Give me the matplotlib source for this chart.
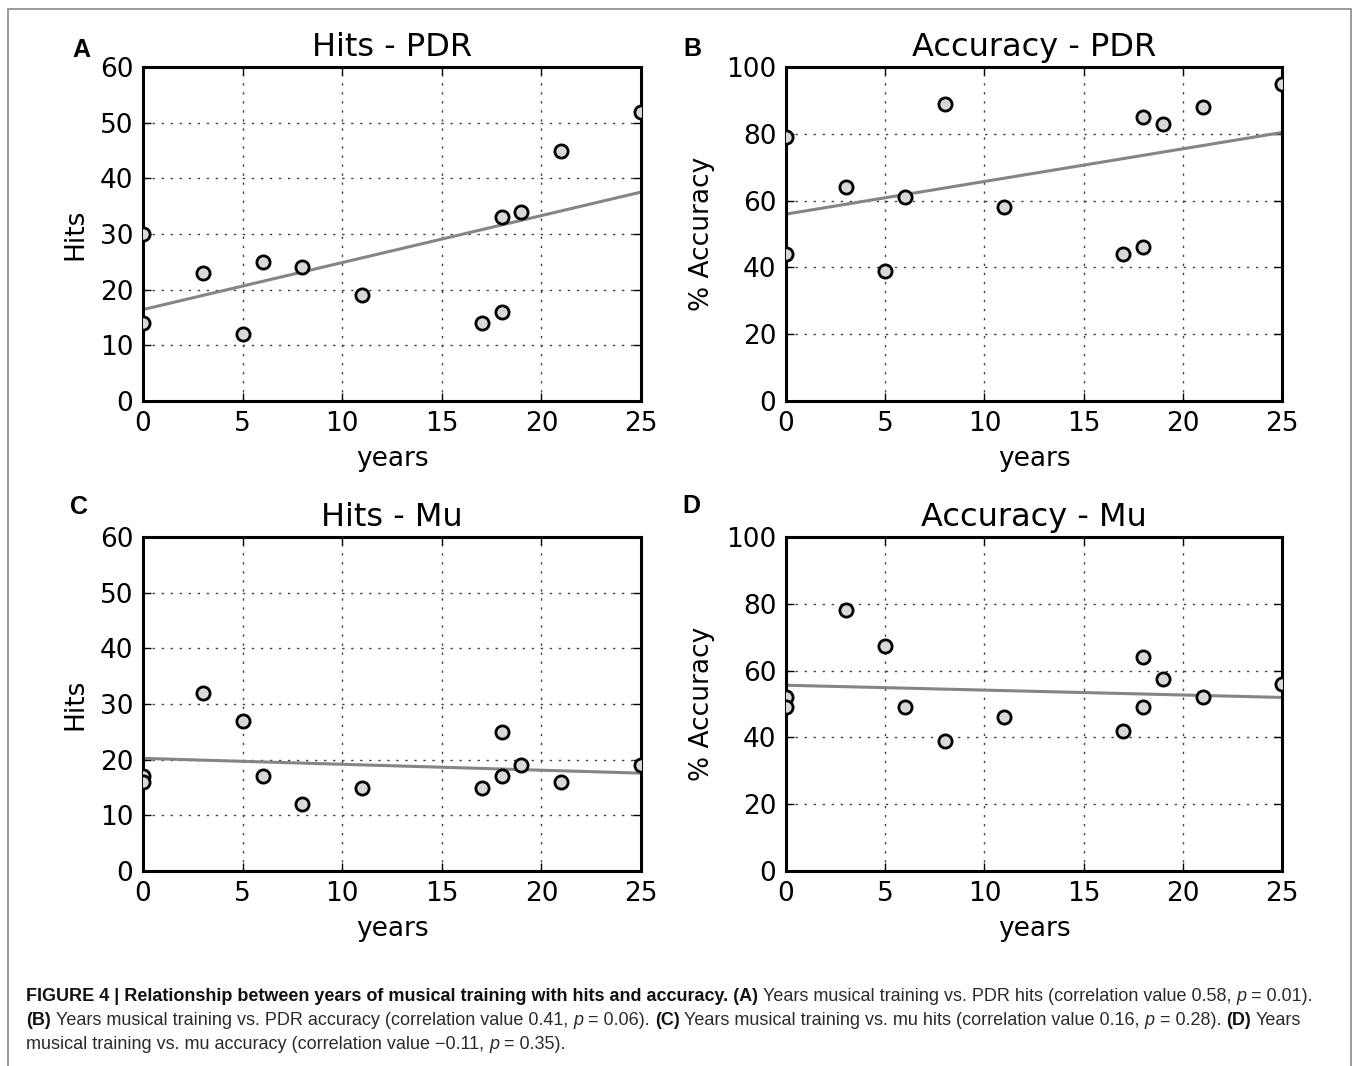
import numpy as np
import matplotlib
matplotlib.use("Agg")
import matplotlib.pyplot as plt
from matplotlib.patches import Rectangle

# ---------------- data ----------------
years = [0, 0, 3, 5, 6, 8, 11, 17, 18, 18, 19, 21, 25]
hits_pdr = [30, 14, 23, 12, 25, 24, 19, 14, 16, 33, 34, 45, 52]
acc_pdr = [79, 44, 64, 39, 61, 89, 58, 44, 85, 46, 83, 88, 95]
hits_mu = [17, 16, 32, 27, 17, 12, 15, 15, 25, 17, 19, 16, 19]
acc_mu = [52, 49, 78, 67.5, 49, 39, 46, 42, 64, 49, 57.5, 52, 56]

titles = ["Hits - PDR", "Accuracy - PDR", "Hits - Mu", "Accuracy - Mu"]
ylabels = ["Hits", "% Accuracy", "Hits", "% Accuracy"]
letters = ["A", "B", "C", "D"]
series = [hits_pdr, acc_pdr, hits_mu, acc_mu]
ylims = [(0, 60), (0, 100), (0, 60), (0, 100)]
xticks = [0, 5, 10, 15, 20, 25]
yticks_hits = [0, 10, 20, 30, 40, 50, 60]
yticks_acc = [0, 20, 40, 60, 80, 100]
yticks = [yticks_hits, yticks_acc, yticks_hits, yticks_acc]

W, H = 1354, 1066
fig = plt.figure(figsize=(W / 100, H / 100), dpi=100)
fig.patch.set_facecolor("white")

def px(x0, y0, x1, y1):
    return [x0 / W, 1 - y1 / H, (x1 - x0) / W, (y1 - y0) / H]

boxes = [px(143, 67, 641, 401), px(786, 67, 1282, 401),
         px(143, 537, 641, 871), px(786, 537, 1282, 871)]
letter_pos = [(72, 57), (683, 56), (70, 514), (682, 513)]

tick_fs = 19
for i in range(4):
    ax = fig.add_axes(boxes[i])
    x = np.array(years, dtype=float)
    y = np.array(series[i], dtype=float)
    slope, icpt = np.polyfit(x, y, 1)
    xl = np.array([0, 25.0])
    ax.plot(xl, slope * xl + icpt, color="#858585", lw=2.2, zorder=2)
    ax.plot(x, y, "o", ms=9.5, mfc="#d8d8d8", mec="black", mew=2.0,
            linestyle="none", zorder=3)
    ax.set_xlim(0, 25)
    ax.set_ylim(*ylims[i])
    ax.set_xticks(xticks)
    ax.set_yticks(yticks[i])
    ax.grid(True, color="#444444", linestyle=(0, (1.7, 4.8)), lw=1.0)
    ax.set_axisbelow(True)
    for s in ax.spines.values():
        s.set_linewidth(2.2)
    ax.tick_params(direction="in", top=True, right=True, length=6, width=1,
                   labelsize=tick_fs, pad=7)
    ax.set_title(titles[i], fontsize=23, pad=8, family="DejaVu Sans")
    ax.set_xlabel("years", fontsize=19, labelpad=7)
    ax.set_ylabel(ylabels[i], fontsize=19, labelpad=8)
    lx, ly = letter_pos[i]
    fig.text(lx / W, 1 - ly / H, letters[i], fontsize=18, fontweight="bold",
             family="Liberation Sans", va="baseline", ha="left")

# figure frame
fig.patches.append(Rectangle((8 / W, -0.05), (1351 - 8) / W, 1.05 - 9 / H,
                             transform=fig.transFigure, fill=False,
                             edgecolor="#8a8a8a", lw=1.2))

# ---------------- caption ----------------
cap_lines = [
    [("FIGURE 4 | Relationship between years of musical training with hits and accuracy. (A)", "bold", "normal"),
     ("Years musical training vs. PDR hits (correlation value 0.58,", "normal", "normal"),
     ("p", "normal", "italic"),
     ("= 0.01).", "normal", "normal")],
    [("(B)", "bold", "normal"),
     ("Years musical training vs. PDR accuracy (correlation value 0.41,", "normal", "normal"),
     ("p", "normal", "italic"),
     ("= 0.06).", "normal", "normal"),
     ("(C)", "bold", "normal"),
     ("Years musical training vs. mu hits (correlation value 0.16,", "normal", "normal"),
     ("p", "normal", "italic"),
     ("= 0.28).", "normal", "normal"),
     ("(D)", "bold", "normal"),
     ("Years", "normal", "normal")],
    [("musical training vs. mu accuracy (correlation value \u22120.11,", "normal", "normal"),
     ("p", "normal", "italic"),
     ("= 0.35).", "normal", "normal")],
]
cap_base = [1001, 1025, 1049]
cap_fs = 13.0
renderer = fig.canvas.get_renderer()

def width_of(s, weight, style):
    t = fig.text(0, 0, s, fontsize=cap_fs, fontweight=weight, fontstyle=style,
                 family="Liberation Sans")
    w = t.get_window_extent(renderer).width
    t.remove()
    return w

space_w = width_of("a a", "normal", "normal") - width_of("aa", "normal", "normal")

for line, base in zip(cap_lines, cap_base):
    xcur = 26.0
    for s, weight, style in line:
        col = "#111111" if weight == "bold" else "#2a2a2a"
        t = fig.text(xcur / W, 1 - base / H, s, fontsize=cap_fs, fontweight=weight,
                     fontstyle=style, family="Liberation Sans", color=col,
                     va="baseline", ha="left")
        xcur += t.get_window_extent(renderer).width + space_w

fig.savefig("out.png", dpi=100, facecolor="white")
